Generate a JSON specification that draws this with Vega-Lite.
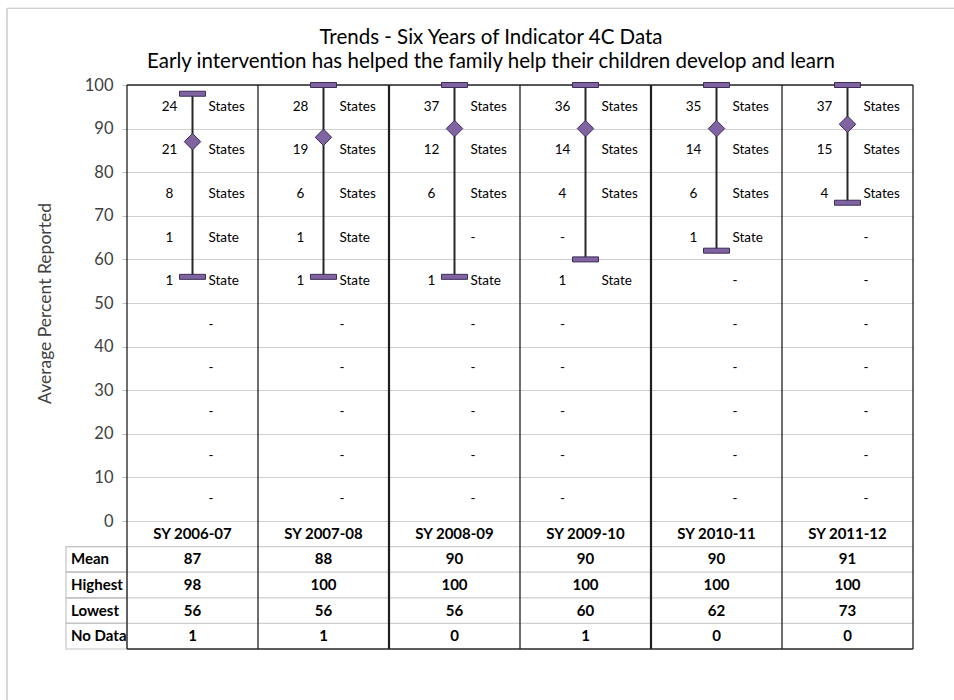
{
  "$schema": "https://vega.github.io/schema/vega-lite/v6.json",
  "width": 786,
  "height": 564,
  "autosize": {"type": "none"},
  "padding": {"left": 127, "top": 85, "right": 41, "bottom": 51},
  "background": "white",
  "config": {"view": {"stroke": null}, "font": "Lato"},
  "title": {
    "text": ["Trends - Six Years of Indicator 4C Data", "Early intervention has helped the family help their children develop and learn"],
    "font": "Lato", "fontSize": 20.5, "fontWeight": "normal", "color": "#000000",
    "anchor": "middle", "frame": "group", "dx": -29, "lineHeight": 24, "offset": -65
  },
  "datasets": {
    "years": [
      {"col": 1, "year": "SY 2006-07", "Mean": 87, "Highest": 98, "Lowest": 56, "No Data": 1},
      {"col": 2, "year": "SY 2007-08", "Mean": 88, "Highest": 100, "Lowest": 56, "No Data": 1},
      {"col": 3, "year": "SY 2008-09", "Mean": 90, "Highest": 100, "Lowest": 56, "No Data": 0},
      {"col": 4, "year": "SY 2009-10", "Mean": 90, "Highest": 100, "Lowest": 60, "No Data": 1},
      {"col": 5, "year": "SY 2010-11", "Mean": 90, "Highest": 100, "Lowest": 62, "No Data": 0},
      {"col": 6, "year": "SY 2011-12", "Mean": 91, "Highest": 100, "Lowest": 73, "No Data": 0}
    ],
    "counts": [
      {"col": 1, "mid": 95, "n": "24", "unit": "States"},
      {"col": 1, "mid": 85, "n": "21", "unit": "States"},
      {"col": 1, "mid": 75, "n": "8", "unit": "States"},
      {"col": 1, "mid": 65, "n": "1", "unit": "State"},
      {"col": 1, "mid": 55, "n": "1", "unit": "State"},
      {"col": 1, "mid": 45, "n": "", "unit": "-"},
      {"col": 1, "mid": 35, "n": "", "unit": "-"},
      {"col": 1, "mid": 25, "n": "", "unit": "-"},
      {"col": 1, "mid": 15, "n": "", "unit": "-"},
      {"col": 1, "mid": 5, "n": "", "unit": "-"},
      {"col": 2, "mid": 95, "n": "28", "unit": "States"},
      {"col": 2, "mid": 85, "n": "19", "unit": "States"},
      {"col": 2, "mid": 75, "n": "6", "unit": "States"},
      {"col": 2, "mid": 65, "n": "1", "unit": "State"},
      {"col": 2, "mid": 55, "n": "1", "unit": "State"},
      {"col": 2, "mid": 45, "n": "", "unit": "-"},
      {"col": 2, "mid": 35, "n": "", "unit": "-"},
      {"col": 2, "mid": 25, "n": "", "unit": "-"},
      {"col": 2, "mid": 15, "n": "", "unit": "-"},
      {"col": 2, "mid": 5, "n": "", "unit": "-"},
      {"col": 3, "mid": 95, "n": "37", "unit": "States"},
      {"col": 3, "mid": 85, "n": "12", "unit": "States"},
      {"col": 3, "mid": 75, "n": "6", "unit": "States"},
      {"col": 3, "mid": 65, "n": "", "unit": "-"},
      {"col": 3, "mid": 55, "n": "1", "unit": "State"},
      {"col": 3, "mid": 45, "n": "", "unit": "-"},
      {"col": 3, "mid": 35, "n": "", "unit": "-"},
      {"col": 3, "mid": 25, "n": "", "unit": "-"},
      {"col": 3, "mid": 15, "n": "", "unit": "-"},
      {"col": 3, "mid": 5, "n": "", "unit": "-"},
      {"col": 4, "mid": 95, "n": "36", "unit": "States"},
      {"col": 4, "mid": 85, "n": "14", "unit": "States"},
      {"col": 4, "mid": 75, "n": "4", "unit": "States"},
      {"col": 4, "mid": 65, "n": "-", "unit": ""},
      {"col": 4, "mid": 55, "n": "1", "unit": "State"},
      {"col": 4, "mid": 45, "n": "-", "unit": ""},
      {"col": 4, "mid": 35, "n": "-", "unit": ""},
      {"col": 4, "mid": 25, "n": "-", "unit": ""},
      {"col": 4, "mid": 15, "n": "-", "unit": ""},
      {"col": 4, "mid": 5, "n": "-", "unit": ""},
      {"col": 5, "mid": 95, "n": "35", "unit": "States"},
      {"col": 5, "mid": 85, "n": "14", "unit": "States"},
      {"col": 5, "mid": 75, "n": "6", "unit": "States"},
      {"col": 5, "mid": 65, "n": "1", "unit": "State"},
      {"col": 5, "mid": 55, "n": "", "unit": "-"},
      {"col": 5, "mid": 45, "n": "", "unit": "-"},
      {"col": 5, "mid": 35, "n": "", "unit": "-"},
      {"col": 5, "mid": 25, "n": "", "unit": "-"},
      {"col": 5, "mid": 15, "n": "", "unit": "-"},
      {"col": 5, "mid": 5, "n": "", "unit": "-"},
      {"col": 6, "mid": 95, "n": "37", "unit": "States"},
      {"col": 6, "mid": 85, "n": "15", "unit": "States"},
      {"col": 6, "mid": 75, "n": "4", "unit": "States"},
      {"col": 6, "mid": 65, "n": "", "unit": "-"},
      {"col": 6, "mid": 55, "n": "", "unit": "-"},
      {"col": 6, "mid": 45, "n": "", "unit": "-"},
      {"col": 6, "mid": 35, "n": "", "unit": "-"},
      {"col": 6, "mid": 25, "n": "", "unit": "-"},
      {"col": 6, "mid": 15, "n": "", "unit": "-"},
      {"col": 6, "mid": 5, "n": "", "unit": "-"}
    ],
    "bounds": [{"b": 0.5}, {"b": 1.5}, {"b": 2.5}, {"b": 3.5}, {"b": 4.5}, {"b": 5.5}, {"b": 6.5}],
    "rows": [{"row": "year"}, {"row": "Mean"}, {"row": "Highest"}, {"row": "Lowest"}, {"row": "No Data"}]
  },
  "layer": [
    {
      "layer": [
        {
          "data": {"name": "years"},
          "mark": {"type": "rule", "color": "#262626", "strokeWidth": 2},
          "encoding": {
            "x": {"field": "col", "type": "quantitative", "scale": {"domain": [0.5, 6.5], "nice": false, "zero": false}, "axis": null},
            "y": {
              "field": "Lowest", "type": "quantitative",
              "scale": {"domain": [0, 100], "range": [436, 0], "nice": false, "zero": false},
              "axis": {
                "values": [0, 10, 20, 30, 40, 50, 60, 70, 80, 90, 100],
                "grid": true, "gridColor": "#cfcfcf", "gridWidth": 1,
                "domain": false, "ticks": true, "tickSize": 5, "tickColor": "#bfbfbf",
                "labelFont": "Lato", "labelFontSize": 16.5, "labelColor": "#404040", "labelPadding": 9,
                "title": "Average Percent Reported", "titleFont": "Lato", "titleFontSize": 17.5,
                "titleFontWeight": "normal", "titleColor": "#404040", "titleX": -73, "titleY": 218
              }
            },
            "y2": {"field": "Highest"}
          }
        },
        {
          "data": {"values": [{}]},
          "mark": {"type": "rule", "color": "#bfbfbf", "strokeWidth": 1.2},
          "encoding": {
            "x": {"datum": -0.416, "type": "quantitative", "scale": {"domain": [0.5, 6.5], "nice": false, "zero": false}},
            "x2": {"datum": 6.85},
            "y": {"datum": 117.6, "type": "quantitative", "scale": {"domain": [0, 100], "range": [436, 0], "nice": false, "zero": false}}
          }
        },
        {
          "data": {"values": [{}]},
          "mark": {"type": "rule", "color": "#bfbfbf", "strokeWidth": 1.2},
          "encoding": {
            "x": {"datum": -0.416, "type": "quantitative", "scale": {"domain": [0.5, 6.5], "nice": false, "zero": false}},
            "y": {"datum": 117.6, "type": "quantitative", "scale": {"domain": [0, 100], "range": [436, 0], "nice": false, "zero": false}},
            "y2": {"datum": -42}
          }
        },
        {
          "data": {"values": [{}]},
          "mark": {"type": "rule", "color": "#262626", "strokeWidth": 1.5},
          "encoding": {
            "x": {"datum": 0.5, "type": "quantitative", "scale": {"domain": [0.5, 6.5], "nice": false, "zero": false}},
            "x2": {"datum": 6.5},
            "y": {"datum": 100, "type": "quantitative", "scale": {"domain": [0, 100], "range": [436, 0], "nice": false, "zero": false}}
          }
        },
        {
          "data": {"name": "years"},
          "mark": {"type": "tick", "orient": "horizontal", "size": 26, "thickness": 5, "color": "#8064A2", "stroke": "#3b2d56", "strokeWidth": 1, "opacity": 1},
          "encoding": {
            "x": {"field": "col", "type": "quantitative", "scale": {"domain": [0.5, 6.5], "nice": false, "zero": false}},
            "y": {"field": "Highest", "type": "quantitative", "scale": {"domain": [0, 100], "range": [436, 0], "nice": false, "zero": false}}
          }
        },
        {
          "data": {"name": "years"},
          "mark": {"type": "tick", "orient": "horizontal", "size": 26, "thickness": 5, "color": "#8064A2", "stroke": "#3b2d56", "strokeWidth": 1, "opacity": 1},
          "encoding": {
            "x": {"field": "col", "type": "quantitative", "scale": {"domain": [0.5, 6.5], "nice": false, "zero": false}},
            "y": {"field": "Lowest", "type": "quantitative", "scale": {"domain": [0, 100], "range": [436, 0], "nice": false, "zero": false}}
          }
        },
        {
          "data": {"name": "years"},
          "mark": {"type": "point", "shape": "diamond", "size": 270, "filled": true, "fill": "#8064A2", "stroke": "#3b2d56", "strokeWidth": 1, "opacity": 1},
          "encoding": {
            "x": {"field": "col", "type": "quantitative", "scale": {"domain": [0.5, 6.5], "nice": false, "zero": false}},
            "y": {"field": "Mean", "type": "quantitative", "scale": {"domain": [0, 100], "range": [436, 0], "nice": false, "zero": false}}
          }
        },
        {
          "data": {"name": "counts"},
          "mark": {"type": "text", "font": "Lato", "fontSize": 13.5, "color": "#000000", "align": "center", "baseline": "middle", "dx": -23},
          "encoding": {
            "x": {"field": "col", "type": "quantitative", "scale": {"domain": [0.5, 6.5], "nice": false, "zero": false}},
            "y": {"field": "mid", "type": "quantitative", "scale": {"domain": [0, 100], "range": [436, 0], "nice": false, "zero": false}},
            "text": {"field": "n"}
          }
        },
        {
          "data": {"name": "counts"},
          "mark": {"type": "text", "font": "Lato", "fontSize": 13.5, "color": "#000000", "align": "left", "baseline": "middle", "dx": 16},
          "encoding": {
            "x": {"field": "col", "type": "quantitative", "scale": {"domain": [0.5, 6.5], "nice": false, "zero": false}},
            "y": {"field": "mid", "type": "quantitative", "scale": {"domain": [0, 100], "range": [436, 0], "nice": false, "zero": false}},
            "text": {"field": "unit"}
          }
        }
      ]
    },
    {
      "layer": [
        {
          "data": {"name": "rows"},
          "transform": [{"filter": "datum.row !== 'No Data'"}],
          "mark": {"type": "rule", "color": "#cfcfcf", "strokeWidth": 1.2},
          "encoding": {
            "x": {"datum": 0.0344, "type": "quantitative", "scale": {"domain": [0.5, 6.5], "nice": false, "zero": false}},
            "x2": {"datum": 6.5},
            "y": {"field": "row", "type": "nominal", "bandPosition": 1, "scale": {"type": "band", "domain": ["year", "Mean", "Highest", "Lowest", "No Data"], "range": [436, 564], "paddingInner": 0, "paddingOuter": 0}, "axis": null}
          }
        },
        {
          "data": {"name": "rows"},
          "transform": [{"filter": "datum.row !== 'year'"}],
          "mark": {"type": "rect", "fill": "white", "fillOpacity": 0, "stroke": "#c4c4c4", "strokeWidth": 1.2},
          "encoding": {
            "x": {"datum": 0.0344, "type": "quantitative", "scale": {"domain": [0.5, 6.5], "nice": false, "zero": false}},
            "x2": {"datum": 0.5},
            "y": {"field": "row", "type": "nominal", "scale": {"type": "band", "domain": ["year", "Mean", "Highest", "Lowest", "No Data"], "range": [436, 564], "paddingInner": 0, "paddingOuter": 0}, "axis": null}
          }
        },
        {
          "data": {"name": "rows"},
          "transform": [{"filter": "datum.row === 'No Data'"}],
          "mark": {"type": "rule", "color": "#262626", "strokeWidth": 1.5},
          "encoding": {
            "x": {"datum": 0.5, "type": "quantitative", "scale": {"domain": [0.5, 6.5], "nice": false, "zero": false}},
            "x2": {"datum": 6.5},
            "y": {"field": "row", "type": "nominal", "bandPosition": 1, "scale": {"type": "band", "domain": ["year", "Mean", "Highest", "Lowest", "No Data"], "range": [436, 564], "paddingInner": 0, "paddingOuter": 0}, "axis": null}
          }
        },
        {
          "data": {"name": "rows"},
          "transform": [{"filter": "datum.row !== 'year'"}],
          "mark": {"type": "text", "font": "Lato", "fontSize": 15, "fontWeight": "bold", "color": "#000000", "align": "left", "baseline": "middle"},
          "encoding": {
            "x": {"datum": 0.0725, "type": "quantitative", "scale": {"domain": [0.5, 6.5], "nice": false, "zero": false}},
            "y": {"field": "row", "type": "nominal", "scale": {"type": "band", "domain": ["year", "Mean", "Highest", "Lowest", "No Data"], "range": [436, 564], "paddingInner": 0, "paddingOuter": 0}, "axis": null},
            "text": {"field": "row"}
          }
        },
        {
          "data": {"name": "years"},
          "transform": [{"fold": ["year", "Mean", "Highest", "Lowest", "No Data"], "as": ["row", "val"]}],
          "mark": {"type": "text", "font": "Lato", "fontSize": 15, "fontWeight": "bold", "color": "#000000", "align": "center", "baseline": "middle"},
          "encoding": {
            "x": {"field": "col", "type": "quantitative", "scale": {"domain": [0.5, 6.5], "nice": false, "zero": false}},
            "y": {"field": "row", "type": "nominal", "scale": {"type": "band", "domain": ["year", "Mean", "Highest", "Lowest", "No Data"], "range": [436, 564], "paddingInner": 0, "paddingOuter": 0}, "axis": null},
            "text": {"field": "val", "type": "nominal"}
          }
        },
        {
          "data": {"name": "bounds"},
          "mark": {"type": "rule", "color": "#1f1f1f"},
          "encoding": {
            "x": {"field": "b", "type": "quantitative", "scale": {"domain": [0.5, 6.5], "nice": false, "zero": false}},
            "strokeWidth": {"condition": {"test": "datum.b === 2.5 || datum.b === 4.5", "value": 2.2}, "value": 1.3}
          }
        }
      ]
    }
  ],
  "resolve": {"scale": {"y": "independent"}, "axis": {"y": "independent"}}
}
